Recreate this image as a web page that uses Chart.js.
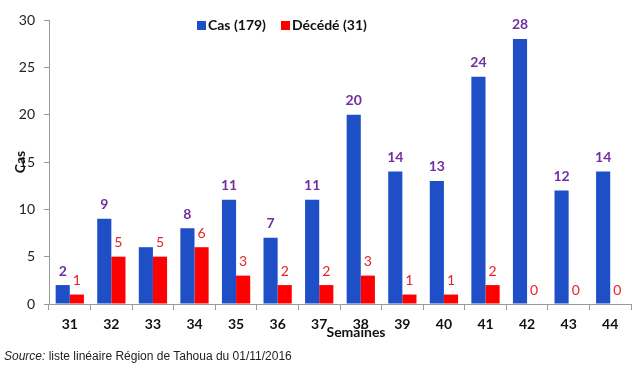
<!DOCTYPE html>
<html>
<head>
<meta charset="utf-8">
<script src="https://cdn.jsdelivr.net/npm/chart.js@4"></script>
<style>
  html, body { margin: 0; padding: 0; background: #fff; }
  #wrap { position: relative; width: 640px; height: 374px; }
  #source { position: absolute; left: 4px; top: 349px; font: 12px "Liberation Sans", Arial, sans-serif; color: #222; }
</style>
</head>
<body>
<div id="wrap">
  <canvas id="casChart" width="640" height="374"></canvas>
  <div id="source"><i>Source:</i> liste linéaire Région de Tahoua du 01/11/2016</div>
</div>
<script>
const semaines = ["31", "32", "33", "34", "35", "36", "37", "38", "39", "40", "41", "42", "43", "44"];
const cas     = [2, 9, 6, 8, 11, 7, 11, 20, 14, 13, 24, 28, 12, 14];
const decedes = [1, 5, 5, 6, 3, 2, 2, 3, 1, 1, 2, 0, 0, 0];
const yTicks  = [0, 5, 10, 15, 20, 25, 30];
// semaines où l'étiquette des cas n'apparaît pas sur l'original
const casSansEtiquette = ["33"];

const bleu = "#1F4FC6";
const rouge = "#FF0000";
const font = "Lato, 'Open Sans', sans-serif";

const extras = {
    id: "extras",
    afterDatasetsDraw(chart) {
        const ctx = chart.ctx;
        ctx.save();
        ctx.textAlign = "center";
        ctx.textBaseline = "middle";
        chart.data.datasets.forEach((ds, i) => {
            const meta = chart.getDatasetMeta(i);
            ctx.fillStyle = i === 0 ? "#7030A0" : "#E8202A";
            ctx.font = (i === 0 ? "bold 14px " : "14px ") + font;
            meta.data.forEach((bar, j) => {
                if (i === 0 && casSansEtiquette.includes(semaines[j])) return;
                ctx.fillText(String(ds.data[j]), bar.x, bar.y - 14);
            });
        });

        // legende
        ctx.textAlign = "left";
        ctx.font = "bold 14px " + font;
        ctx.fillStyle = bleu;
        ctx.fillRect(197, 21, 9, 9);
        ctx.fillStyle = "#111";
        ctx.fillText("Cas (179)", 208, 25);
        ctx.fillStyle = rouge;
        ctx.fillRect(281, 21, 9, 9);
        ctx.fillStyle = "#111";
        ctx.fillText("Décédé (31)", 292, 25);

        // titres des axes
        ctx.textAlign = "center";
        ctx.fillText("Semaines", 356, 332);
        ctx.translate(20, 162);
        ctx.rotate(-Math.PI / 2);
        ctx.fillText("Cas", 0, 0);
        ctx.restore();
    }
};

new Chart(document.getElementById("casChart"), {
    type: "bar",
    data: {
        labels: semaines,
        datasets: [
            { label: "Cas (179)", data: cas, backgroundColor: bleu },
            { label: "Décédé (31)", data: decedes, backgroundColor: rouge }
        ]
    },
    options: {
        responsive: false,
        animation: false,
        layout: { padding: { top: 20, right: 9, left: 0, bottom: 0 } },
        datasets: { bar: { categoryPercentage: 0.68, barPercentage: 1 } },
        plugins: {
            legend: { display: false },
            tooltip: { enabled: false }
        },
        scales: {
            x: {
                grid: { display: true, drawOnChartArea: false, tickLength: 6, color: "#999", offset: true },
                border: { color: "#999" },
                ticks: { color: "#111", font: { family: font, size: 14, weight: "bold" }, padding: 6 },
                afterFit(scale) { scale.height = 70; }
            },
            y: {
                min: 0,
                max: 30,
                afterBuildTicks(scale) { scale.ticks = yTicks.map(v => ({ value: v })); },
                grid: { display: true, drawOnChartArea: false, tickLength: 5, color: "#999" },
                border: { color: "#999" },
                ticks: { color: "#222", font: { family: font, size: 14 }, padding: 9 },
                afterFit(scale) { scale.width = 49; }
            }
        }
    },
    plugins: [extras]
});
</script>
</body>
</html>
